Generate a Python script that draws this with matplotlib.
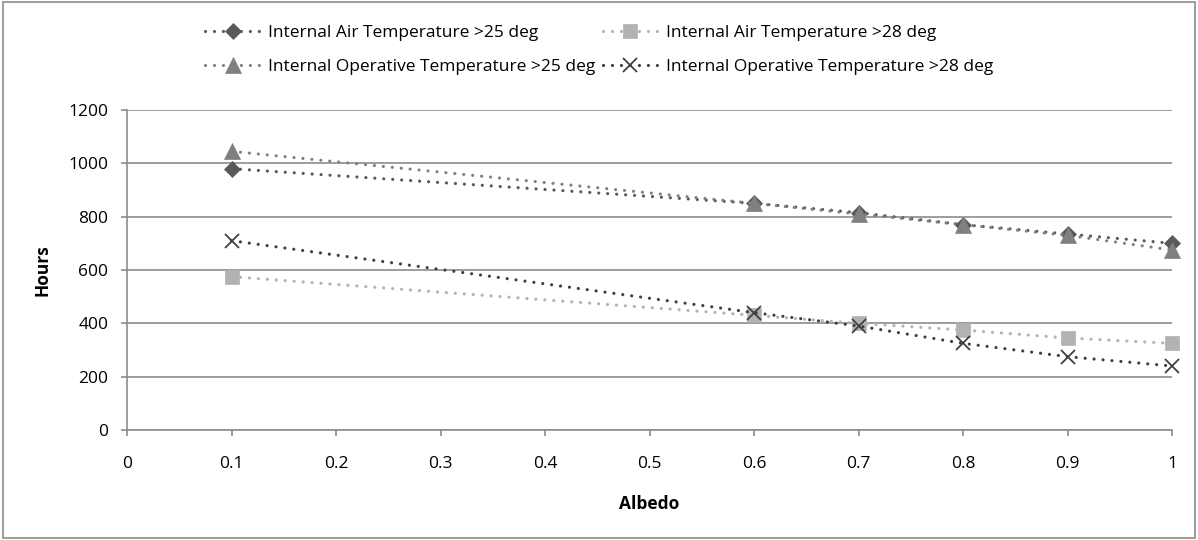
import matplotlib
matplotlib.use("Agg")
import matplotlib.pyplot as plt
from matplotlib.patches import Rectangle

plt.rcParams['font.family'] = ['Open Sans', 'DejaVu Sans']

albedo = [0.1, 0.6, 0.7, 0.8, 0.9, 1.0]
air_25 = [980, 850, 815, 770, 735, 700]
air_28 = [575, 430, 400, 375, 345, 325]
op_25 = [1045, 850, 810, 770, 730, 675]
op_28 = [710, 440, 390, 325, 275, 240]

series = [
    ("Internal Air Temperature >25 deg", air_25, "#595959", "D", 8),
    ("Internal Air Temperature >28 deg", air_28, "#b2b2b2", "s", 10.5),
    ("Internal Operative Temperature >25 deg", op_25, "#808080", "^", 11),
    ("Internal Operative Temperature >28 deg", op_28, "#404040", "x", 10),
]

W, H = 1198, 540
fig = plt.figure(figsize=(W / 100, H / 100), dpi=100)
ax = fig.add_axes([127/W, 1-430/H, (1172-127)/W, (430-110)/H])

lines = []
for label, vals, color, mk, ms in series:
    ln, = ax.plot(albedo, vals, linestyle=(0, (0.01, 2.8)), linewidth=2.3, color=color,
                  dash_capstyle='round', marker=mk, markersize=ms,
                  markeredgewidth=1.3 if mk == "x" else 0.5,
                  markeredgecolor=color, label=label, clip_on=False, zorder=3)
    lines.append(ln)

ax.set_xlim(0, 1)
ax.set_ylim(0, 1200)
ax.set_xticks([i / 10 for i in range(11)])
ax.set_xticklabels(["0", "0.1", "0.2", "0.3", "0.4", "0.5", "0.6", "0.7", "0.8", "0.9", "1"])
ax.set_yticks(range(0, 1201, 200))
ax.grid(axis='y', color='#8c8c8c', linewidth=1.2)
ax.set_axisbelow(True)
for s in ['top', 'right']:
    ax.spines[s].set_visible(False)
for s in ['left', 'bottom']:
    ax.spines[s].set_color('#8c8c8c')
    ax.spines[s].set_linewidth(1.2)
ax.tick_params(axis='y', length=4.5, width=1.2, color='#8c8c8c', labelsize=12.5, direction='out', pad=9)
ax.tick_params(axis='x', length=4.5, width=1.2, color='#8c8c8c', labelsize=12.5, direction='out', pad=14)
ax.set_xlabel("Albedo", fontsize=12.5, fontweight='bold', labelpad=17)
ax.set_ylabel("Hours", fontsize=12.5, fontweight='bold', labelpad=12)

# Excel-style row-wise legend order
order = [0, 2, 1, 3]
fig.legend([lines[i] for i in order], [series[i][0] for i in order],
           loc='upper left', bbox_to_anchor=(205/W, 1-25/H), ncol=2, frameon=False,
           fontsize=12.5, handlelength=3.2, columnspacing=0.4, labelspacing=1.0,
           handletextpad=0.45, borderpad=0, borderaxespad=0)

fig.patches.append(Rectangle((3/W, 2/H), (1195-3)/W, (538-2)/H, transform=fig.transFigure,
                             fill=False, edgecolor='#8c8c8c', linewidth=1.2))

fig.savefig("out.png", dpi=100)
